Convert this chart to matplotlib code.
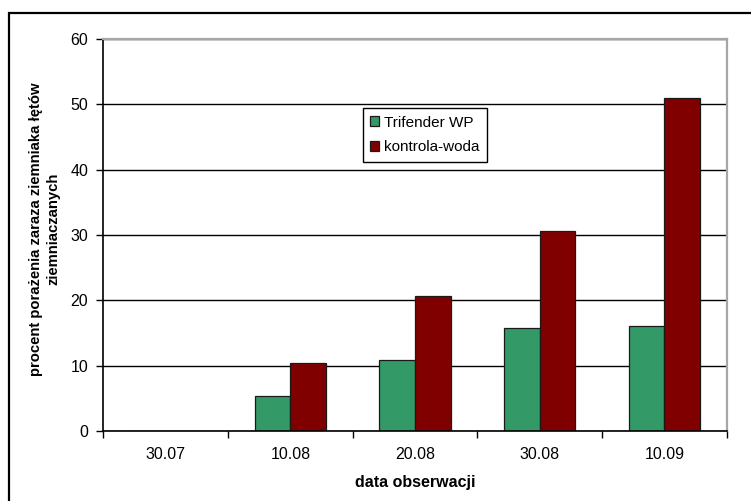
import matplotlib
matplotlib.use("Agg")
import matplotlib.pyplot as plt
from matplotlib.patches import Rectangle
import numpy as np

plt.rcParams['font.family'] = ['Liberation Sans', 'DejaVu Sans']

dates = ["30.07", "10.08", "20.08", "30.08", "10.09"]
trifender = [0, 5.3, 10.8, 15.7, 16.0]
kontrola = [0, 10.4, 20.6, 30.6, 51.0]
series_names = ["Trifender WP", "kontrola-woda"]
y_ticks = [0, 10, 20, 30, 40, 50, 60]

green = "#339966"
maroon = "#800000"

fig = plt.figure(figsize=(7.51, 5.01), dpi=100)
ax = fig.add_axes([0.1377, 0.1397, 0.830, 0.7824])

centers = np.arange(len(dates)) + 0.5
w = 1 / 3.5
ax.bar(centers - w / 2, trifender, width=w, color=green, edgecolor="#1a1a1a",
       linewidth=0.9, label=series_names[0], zorder=3)
ax.bar(centers + w / 2, kontrola, width=w, color=maroon, edgecolor="#1a1a1a",
       linewidth=0.9, label=series_names[1], zorder=3)

ax.set_xlim(0, len(dates))
ax.set_ylim(0, 60)
ax.set_yticks(y_ticks)
ax.set_yticklabels([str(v) for v in y_ticks], fontsize=11.5)

# category boundaries carry the tick marks, labels sit at the centres
ax.set_xticks(np.arange(len(dates) + 1))
ax.set_xticklabels([])
ax.set_xticks(centers, minor=True)
ax.set_xticklabels(dates, minor=True, fontsize=11.5)
ax.tick_params(axis='x', which='major', direction='out', length=5, width=1, color='black')
ax.tick_params(axis='x', which='minor', length=0, pad=11.5)
ax.tick_params(axis='y', direction='out', length=5, width=1, color='black', pad=6)

ax.yaxis.grid(True, color='black', linewidth=1, zorder=1)
ax.set_axisbelow(True)

for side in ('left', 'bottom'):
    ax.spines[side].set_color('black')
    ax.spines[side].set_linewidth(1.2)
    ax.spines[side].set_zorder(4)
for side in ('top', 'right'):
    ax.spines[side].set_color('#a6a6a6')
    ax.spines[side].set_linewidth(1.6)
    ax.spines[side].set_zorder(4)

ax.set_xlabel("data obserwacji", fontsize=11.5, fontweight='bold')
ax.xaxis.label.set_va('center')
ax.xaxis.set_label_coords(0.5, -0.132)

ax.set_ylabel("procent porażenia zaraza ziemniaka łętów\nziemniaczanych",
              fontsize=10.7, fontweight='bold', multialignment='center',
              linespacing=1.3)
ax.yaxis.label.set_va('center')
ax.yaxis.set_label_coords(-0.094, 0.515)

leg = ax.legend(loc='upper left', bbox_to_anchor=(0.4157, 0.824), fontsize=11,
                frameon=True, fancybox=False, edgecolor='black', framealpha=1,
                handlelength=0.6, handleheight=0.6, handletextpad=0.3,
                labelspacing=0.7, borderpad=0.5, borderaxespad=0)
leg.get_frame().set_linewidth(1.0)

# outer chart frame
fig.patches.append(Rectangle((8.5 / 751, -0.05), 1.0, (501 - 13) / 501 + 0.05,
                             transform=fig.transFigure, fill=False,
                             edgecolor='black', linewidth=1.6, clip_on=False))

fig.savefig("out.png", dpi=100, facecolor='white')
